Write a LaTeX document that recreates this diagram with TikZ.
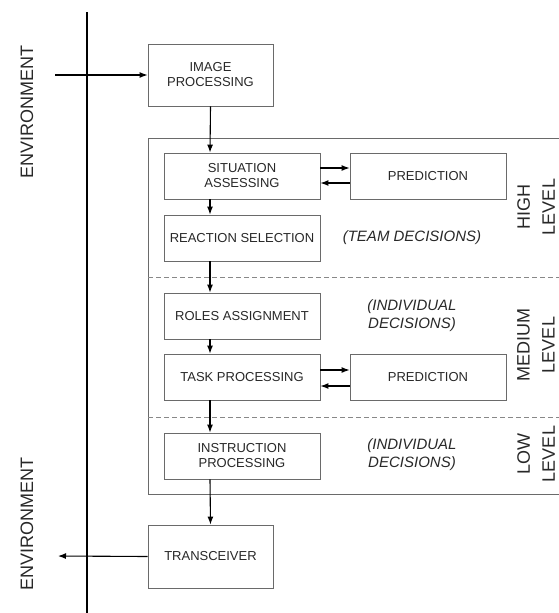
\documentclass[tikz,border=0pt]{standalone}
\usepackage{fontspec}
\setmainfont{Liberation Sans}
\usetikzlibrary{arrows.meta,calc}
\definecolor{boxgray}{HTML}{6A6A6A}
\definecolor{txtgray}{HTML}{282828}
\tikzset{
  blk/.style={draw=boxgray, line width=0.9pt, fill=white, text=txtgray,
    align=center, inner sep=0pt, font=\fontsize{13}{15}\selectfont},
  smallblk/.style={blk, minimum width=156pt, minimum height=46pt},
  bigblk/.style={blk, minimum width=125pt, minimum height=62pt},
  arr/.style={draw=black, line width=1.1pt, -{Latex[length=8pt,width=6pt]}},
  note/.style={text=txtgray, align=center, inner sep=0pt,
    font=\fontsize{15}{18}\selectfont\itshape},
  lvl/.style={text=txtgray, align=center, inner sep=0pt, rotate=90,
    font=\fontsize{18}{25}\selectfont},
  sep/.style={draw=boxgray!80, line width=0.9pt, dash pattern=on 5pt off 3pt},
}
\begin{document}
\begin{tikzpicture}[x=1pt,y=-1pt]
\useasboundingbox (0,0) rectangle (558,613);
% environment axis
\coordinate (vtop) at (87,12);
\coordinate (vbot) at (87,613);
\draw[line width=1.8pt] (vtop) -- (vbot);
\node[lvl] (env1) at (27,112) {ENVIRONMENT};
\node[lvl] (env2) at (27,524) {ENVIRONMENT};
% container
\coordinate (ctr) at (560,138);
\coordinate (ctl) at (148,138);
\coordinate (cbl) at (148,494);
\coordinate (cbr) at (560,494);
\draw[draw=boxgray, line width=0.9pt] (ctr) -- (ctl) -- (cbl) -- (cbr);
% level separators
\coordinate (s1l) at (148,277);
\coordinate (s1r) at (560,277);
\coordinate (s2l) at (148,417);
\coordinate (s2r) at (560,417);
\draw[sep] (s1l) -- (s1r);
\draw[sep] (s2l) -- (s2r);
% blocks
\node[bigblk] (imgp) at (210.5,75) {IMAGE\\PROCESSING};
\node[smallblk] (sa) at (242,176) {SITUATION\\ASSESSING};
\node[smallblk] (pred1) at (428,176) {PREDICTION};
\node[smallblk] (rs) at (242,238) {REACTION SELECTION};
\node[smallblk] (ra) at (242,316) {ROLES ASSIGNMENT};
\node[smallblk] (tp) at (242,377) {TASK PROCESSING};
\node[smallblk] (pred2) at (428,377) {PREDICTION};
\node[smallblk] (ip) at (242,456) {INSTRUCTION\\PROCESSING};
\node[bigblk, minimum height=63pt] (trx) at (210.5,556.5) {TRANSCEIVER};
% notes
\node[note] (n1) at (412,238) {(TEAM DECISIONS)};
\node[note] (n2) at (412,316) {(INDIVIDUAL\\DECISIONS)};
\node[note] (n3) at (412,455) {(INDIVIDUAL\\DECISIONS)};
% level labels
\node[lvl] (l1) at (536,207) {HIGH\\LEVEL};
\node[lvl] (l2) at (536,345) {MEDIUM\\LEVEL};
\node[lvl] (l3) at (536,454) {LOW\\LEVEL};
% connectors
\coordinate (ax) at (210,0);
\coordinate (inS) at (55,75);
\coordinate (outE) at (58,556);
\draw[arr] (inS) -- (imgp.west);
\draw[arr] (imgp.south) -- (ax |- sa.north);
\draw[arr] (ax |- sa.south) -- (ax |- rs.north);
\draw[arr] (ax |- rs.south) -- (ax |- ra.north);
\draw[arr] (ax |- ra.south) -- (ax |- tp.north);
\draw[arr] (ax |- tp.south) -- (ax |- ip.north);
\draw[arr] (ax |- ip.south) -- (trx.north);
\draw[arr] (trx.west) -- (outE);
\draw[arr] ([yshift=8pt]sa.east) -- ([yshift=8pt]pred1.west);
\draw[arr] ([yshift=-7pt]pred1.west) -- ([yshift=-7pt]sa.east);
\draw[arr] ([yshift=7pt]tp.east) -- ([yshift=7pt]pred2.west);
\draw[arr] ([yshift=-9pt]pred2.west) -- ([yshift=-9pt]tp.east);
\end{tikzpicture}
\end{document}
